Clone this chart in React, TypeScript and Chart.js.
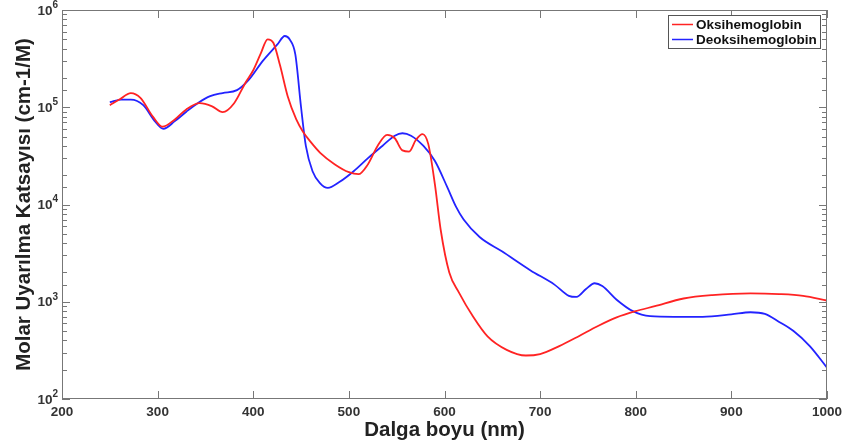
import React, { useEffect, useRef } from 'react';
import { Chart, registerables } from 'chart.js';
Chart.register(...registerables);

const oxyNm = [250, 260, 272, 282, 295, 305, 318, 330, 344, 357, 368, 380, 392, 400, 408, 415, 421, 428, 436, 445, 452, 460, 470, 485, 500, 510, 520, 530, 540, 548, 556, 563, 570, 577, 583, 590, 596, 605, 615, 630, 645, 665, 685, 700, 720, 740, 760, 780, 800, 820, 850, 880, 920, 950, 975, 1000];
const oxyEps = [1.05e5, 1.2e5, 1.4e5, 1.25e5, 8e4, 6.3e4, 7.5e4, 9.5e4, 1.1e5, 1.02e5, 8.9e4, 1.1e5, 1.8e5, 2.4e5, 3.6e5, 5.0e5, 4.6e5, 2.7e5, 1.3e5, 7.5e4, 5.6e4, 4.4e4, 3.4e4, 2.6e4, 2.15e4, 2.05e4, 2.6e4, 4.0e4, 5.2e4, 4.8e4, 3.6e4, 3.5e4, 4.6e4, 5.3e4, 4.2e4, 1.6e4, 5.5e3, 2.0e3, 1.25e3, 700, 440, 320, 280, 290, 350, 440, 560, 690, 800, 900, 1080, 1170, 1220, 1200, 1150, 1030];

const deoxyNm = [250, 262, 272, 285, 297, 306, 318, 330, 343, 355, 368, 383, 395, 410, 425, 433, 438, 444, 450, 455, 462, 470, 478, 490, 505, 520, 535, 548, 556, 565, 578, 590, 603, 612, 620, 637, 660, 690, 715, 730, 738, 748, 757, 765, 780, 797, 815, 840, 870, 900, 920, 935, 950, 965, 982, 1000];
const deoxyEps = [1.13e5, 1.2e5, 1.2e5, 1.05e5, 7.2e4, 6.0e4, 7.2e4, 9.0e4, 1.12e5, 1.3e5, 1.4e5, 1.5e5, 1.9e5, 3.0e5, 4.4e5, 5.4e5, 5.0e5, 3.5e5, 1.0e5, 4.0e4, 2.2e4, 1.65e4, 1.48e4, 1.7e4, 2.2e4, 3.0e4, 4.0e4, 5.1e4, 5.4e4, 5.1e4, 4.0e4, 2.8e4, 1.5e4, 9.5e3, 7.0e3, 4.6e3, 3.3e3, 2.1e3, 1.5e3, 1.15e3, 1.12e3, 1.35e3, 1.55e3, 1.45e3, 1.05e3, 800, 710, 700, 700, 740, 780, 750, 620, 500, 350, 210];

const seriesLabels = ['Oksihemoglobin', 'Deoksihemoglobin'];
const seriesColors = ['rgb(255,35,35)', 'rgb(35,35,255)'];
const xTitle = 'Dalga boyu (nm)';
const yTitle = 'Molar Uyarılma Katsayısı (cm-1/M)';
const xMin = 200;
const xMax = 1000;
const xStep = 100;
const yMin = 1e2;
const yMax = 1e6;

const FONT = '"Liberation Sans", Arial, Helvetica, sans-serif';

const decorPlugin = {
  id: 'decor',
  afterDraw(chart: any) {
    const ctx = chart.ctx;
    const { left, right, top, bottom } = chart.chartArea;
    const xs = chart.scales.x;
    const ys = chart.scales.y;
    ctx.save();
    ctx.strokeStyle = '#777';
    ctx.lineWidth = 1;
    ctx.strokeRect(left + 0.5, top + 0.5, right - left - 1, bottom - top - 1);
    ctx.beginPath();
    xs.ticks.forEach((t: any) => {
      const px = Math.round(xs.getPixelForValue(t.value)) + 0.5;
      ctx.moveTo(px, bottom);
      ctx.lineTo(px, bottom - 8);
      ctx.moveTo(px, top);
      ctx.lineTo(px, top + 8);
    });
    ys.ticks.forEach((t: any) => {
      const lg = Math.log10(t.value);
      const major = Math.abs(lg - Math.round(lg)) < 1e-6;
      const len = major ? 8 : 5;
      const py = Math.round(ys.getPixelForValue(t.value)) + 0.5;
      ctx.moveTo(left, py);
      ctx.lineTo(left + len, py);
      ctx.moveTo(right, py);
      ctx.lineTo(right - len, py);
    });
    ctx.stroke();

    // y tick labels with superscript exponents
    ctx.fillStyle = '#333';
    ys.ticks.forEach((t: any) => {
      const lg = Math.log10(t.value);
      if (Math.abs(lg - Math.round(lg)) > 1e-6) return;
      const py = ys.getPixelForValue(t.value);
      const exp = String(Math.round(lg));
      ctx.font = 'bold 13.5px ' + FONT;
      const wb = ctx.measureText('10').width;
      ctx.font = 'bold 10px ' + FONT;
      const we = ctx.measureText(exp).width;
      const rightEdge = left - 4;
      ctx.textBaseline = 'middle';
      ctx.textAlign = 'left';
      ctx.font = 'bold 13.5px ' + FONT;
      ctx.fillText('10', rightEdge - we - wb, py + 1);
      ctx.font = 'bold 10px ' + FONT;
      ctx.fillText(exp, rightEdge - we, py - 5);
    });

    // axis titles
    ctx.fillStyle = '#222';
    ctx.font = 'bold 20.5px ' + FONT;
    ctx.textAlign = 'center';
    ctx.textBaseline = 'middle';
    ctx.fillText(xTitle, (left + right) / 2, 430);
    ctx.save();
    ctx.translate(24, (top + bottom) / 2);
    ctx.rotate(-Math.PI / 2);
    ctx.font = 'bold 20.5px ' + FONT;
    ctx.fillText(yTitle, 0, 0);
    ctx.restore();

    // legend
    const bx = 668, by = 15, bw = 152, bh = 33;
    ctx.fillStyle = '#fff';
    ctx.fillRect(bx, by, bw, bh);
    ctx.strokeStyle = '#555';
    ctx.lineWidth = 1;
    ctx.strokeRect(bx + 0.5, by + 0.5, bw, bh);
    ctx.font = 'bold 13.5px ' + FONT;
    ctx.textAlign = 'left';
    ctx.textBaseline = 'middle';
    chart.data.datasets.forEach((ds: any, i: number) => {
      const cy = by + 9 + i * 15;
      ctx.strokeStyle = ds.borderColor;
      ctx.lineWidth = 1.5;
      ctx.beginPath();
      ctx.moveTo(bx + 4, cy + 0.5);
      ctx.lineTo(bx + 25, cy + 0.5);
      ctx.stroke();
      ctx.fillStyle = '#111';
      ctx.fillText(ds.label, bx + 28, cy + 1);
    });
    ctx.restore();
  },
};

export default function App() {
  const ref = useRef<HTMLCanvasElement>(null);
  useEffect(() => {
    if (!ref.current) return;
    const mk = (nm: number[], v: number[]) => nm.map((x, i) => ({ x, y: v[i] }));
    const chart = new Chart(ref.current, {
      type: 'line',
      data: {
        datasets: [
          { label: seriesLabels[0], data: mk(oxyNm, oxyEps), borderColor: seriesColors[0], borderWidth: 1.8, pointRadius: 0, cubicInterpolationMode: 'monotone', fill: false },
          { label: seriesLabels[1], data: mk(deoxyNm, deoxyEps), borderColor: seriesColors[1], borderWidth: 1.8, pointRadius: 0, cubicInterpolationMode: 'monotone', fill: false },
        ],
      },
      options: {
        responsive: false,
        animation: false,
        events: [],
        layout: { padding: { top: 10, right: 17, left: 0, bottom: 0 } },
        plugins: { legend: { display: false }, tooltip: { enabled: false } },
        scales: {
          x: {
            type: 'linear',
            min: xMin,
            max: xMax,
            grid: { display: false, drawTicks: false },
            border: { display: false },
            ticks: { stepSize: xStep, color: '#333', font: { family: FONT, size: 13.5, weight: 'bold' }, padding: 5, maxRotation: 0, callback: (v: any) => String(v) },
            afterFit: (s: any) => { s.height = 47; s.paddingLeft = 0; s.paddingRight = 0; },
          },
          y: {
            type: 'logarithmic',
            min: yMin,
            max: yMax,
            grid: { display: false, drawTicks: false },
            border: { display: false },
            ticks: { display: false },
            afterFit: (s: any) => { s.width = 62; s.paddingTop = 0; s.paddingBottom = 0; },
          },
        },
      } as any,
      plugins: [decorPlugin],
    });
    return () => chart.destroy();
  }, []);
  return (
    <div style={{ position: 'absolute', left: 0, top: 0, width: 844, height: 446, background: '#fff' }}>
      <canvas ref={ref} width={844} height={446} />
    </div>
  );
}
